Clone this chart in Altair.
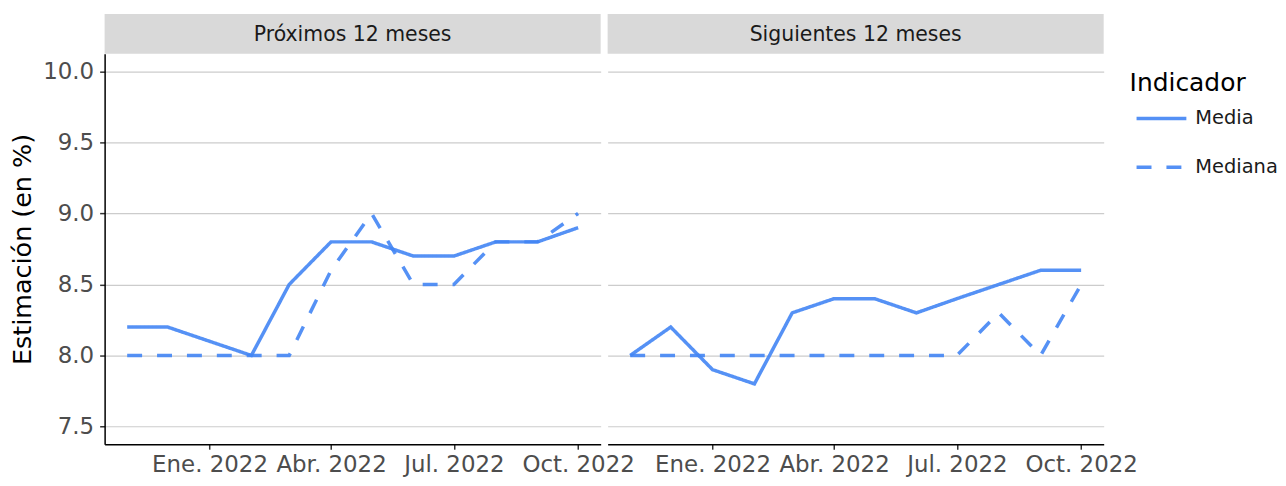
import altair as alt
import pandas as pd

# ---- data ----
months = ["2021-11-01T00:00:00", "2021-12-01T00:00:00", "2022-01-01T00:00:00",
          "2022-02-01T00:00:00", "2022-03-01T00:00:00", "2022-04-01T00:00:00",
          "2022-05-01T00:00:00", "2022-06-01T00:00:00", "2022-07-01T00:00:00",
          "2022-08-01T00:00:00", "2022-09-01T00:00:00", "2022-10-01T00:00:00"]
panels = ["Próximos 12 meses", "Siguientes 12 meses"]
indicators = ["Media", "Mediana"]
prox_media = [8.2, 8.2, 8.1, 8.0, 8.5, 8.8, 8.8, 8.7, 8.7, 8.8, 8.8, 8.9]
prox_mediana = [8.0, 8.0, 8.0, 8.0, 8.0, 8.6, 9.0, 8.5, 8.5, 8.8, 8.8, 9.0]
sig_media = [8.0, 8.2, 7.9, 7.8, 8.3, 8.4, 8.4, 8.3, 8.4, 8.5, 8.6, 8.6]
sig_mediana = [8.0, 8.0, 8.0, 8.0, 8.0, 8.0, 8.0, 8.0, 8.0, 8.3, 8.0, 8.5]
y_ticks = [7.5, 8.0, 8.5, 9.0, 9.5, 10.0]

series = {
    (panels[0], indicators[0]): prox_media,
    (panels[0], indicators[1]): prox_mediana,
    (panels[1], indicators[0]): sig_media,
    (panels[1], indicators[1]): sig_mediana,
}
rows = []
for (p, ind), vals in series.items():
    for m, v in zip(months, vals):
        rows.append({"panel": p, "Indicador": ind, "fecha": m, "valor": v})
df = pd.DataFrame(rows)

W = 498
H = 392
STRIP_H = 40
BLUE = "#4285F4"

label_expr = ("['Ene.','Feb.','Mar.','Abr.','May.','Jun.','Jul.','Ago.','Sep.','Oct.','Nov.','Dic.']"
              "[month(datum.value)] + ' ' + year(datum.value)")

x_ticks = [alt.DateTime(year=2022, month=1, date=1), alt.DateTime(year=2022, month=4, date=1),
           alt.DateTime(year=2022, month=7, date=1), alt.DateTime(year=2022, month=10, date=1)]
x_domain = [alt.DateTime(year=2021, month=10, date=15, hours=7),
            alt.DateTime(year=2022, month=10, date=17, hours=17)]


def strip(name):
    head = pd.DataFrame({"panel": [name]})
    strip_bg = alt.Chart(head).mark_rect(color="#D9D9D9").encode(
        x=alt.value(0), x2=alt.value(W), y=alt.value(0), y2=alt.value(STRIP_H))
    strip_txt = alt.Chart(head).mark_text(
        fontSize=20.5, color="#1A1A1A", font="DejaVu Sans", baseline="middle", align="center"
    ).encode(x=alt.value(W / 2), y=alt.value(STRIP_H / 2 + 1), text="panel:N")
    return (strip_bg + strip_txt).properties(width=W, height=STRIP_H)


def plot(name, show_y):
    if show_y:
        y_axis = alt.Axis(values=y_ticks, format=".1f", title="Estimación (en %)",
                          grid=True, domain=True, ticks=True, labelPadding=6)
    else:
        y_axis = alt.Axis(values=y_ticks, title=None, grid=True, domain=False,
                          ticks=False, labels=False)

    return alt.Chart(df[df["panel"] == name]).mark_line(
        color=BLUE, strokeWidth=3.5, opacity=0.9
    ).encode(
        x=alt.X("fecha:T", title=None,
                scale=alt.Scale(domain=x_domain),
                axis=alt.Axis(values=x_ticks, labelExpr=label_expr, grid=False,
                              labelFlush=False, labelOverlap=False, labelPadding=4)),
        y=alt.Y("valor:Q", scale=alt.Scale(domain=[7.375, 10.125], nice=False, zero=False),
                axis=y_axis),
        strokeDash=alt.StrokeDash(
            "Indicador:N",
            scale=alt.Scale(domain=indicators, range=[[1, 0], [15, 15]]),
            legend=alt.Legend(title="Indicador", orient="none", legendX=1029, legendY=57,
                              symbolType="stroke", symbolSize=2500, symbolStrokeWidth=3.5,
                              symbolStrokeColor=BLUE, symbolOffset=5, labelOffset=7,
                              titleFontSize=25, titleFontWeight="normal", titleColor="black",
                              labelFontSize=19.5, labelColor="#1A1A1A", rowPadding=12,
                              titlePadding=-4, titleFont="DejaVu Sans", labelFont="DejaVu Sans"),
        ),
        detail="Indicador:N",
    ).properties(width=W, height=H)


chart = alt.concat(
    strip(panels[0]), strip(panels[1]),
    plot(panels[0], True), plot(panels[1], False),
    columns=2, spacing=alt.RowColnumber(row=0, column=7), bounds="flush",
).properties(
    padding={"left": 2, "top": 5, "right": 0, "bottom": 0}
).configure_view(stroke=None).configure_axis(
    labelFont="DejaVu Sans", titleFont="DejaVu Sans",
    labelFontSize=23, labelColor="#4D4D4D",
    titleFontSize=25.5, titleFontWeight="normal", titleColor="black",
    domainColor="black", domainWidth=1.5,
    tickColor="#333333", tickWidth=1.5, tickSize=5,
    gridColor="#CCCCCC", gridWidth=1.2,
    titlePadding=7,
)

chart.save("out.html", embed_options={"renderer": "svg", "actions": False})
